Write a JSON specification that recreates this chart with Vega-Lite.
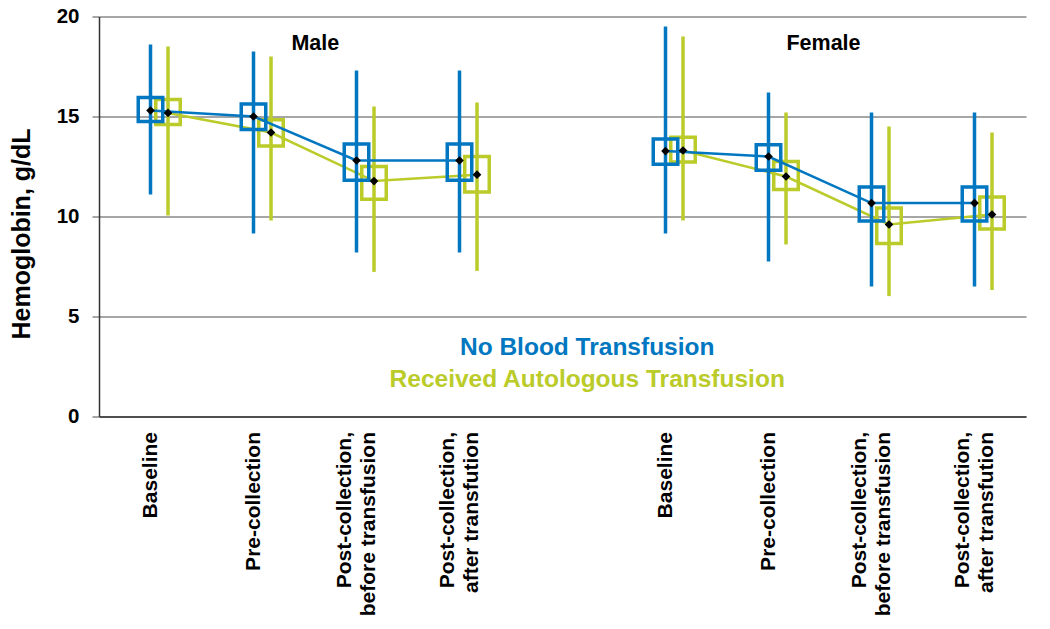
{
  "$schema": "https://vega.github.io/schema/vega-lite/v6.json",
  "width": 927,
  "height": 400,
  "autosize": "none",
  "padding": {"left": 99, "top": 16.5, "right": 24, "bottom": 212},
  "background": "white",
  "config": {
    "view": {"stroke": null},
    "font": "Liberation Sans",
    "axisX": {"domainColor": "#333333", "domainWidth": 1.5, "ticks": false, "grid": false, "labelAngle": -90, "labelFont": "Liberation Sans", "labelFontSize": 21, "labelFontWeight": "bold", "labelColor": "black", "labelPadding": 15, "labelLineHeight": 24, "labelLimit": 300},
    "axisY": {"domainColor": "#333333", "domainWidth": 1.5, "tickColor": "#888888", "tickSize": 7, "tickWidth": 1.5, "gridColor": "#888888", "gridWidth": 1.5, "labelFont": "Liberation Sans", "labelFontSize": 20.5, "labelFontWeight": "bold", "labelColor": "black", "labelPadding": 13, "titleFont": "Liberation Sans", "titleFontSize": 25, "titleFontWeight": "bold", "titleColor": "black", "titlePadding": 22}
  },
  "datasets": {
    "stats": [
      {"sex": "Male", "cat": "M|Baseline", "grp": "No Blood Transfusion", "lo": 11.1, "q1": 14.75, "mean": 15.3, "q3": 15.95, "hi": 18.6},
      {"sex": "Male", "cat": "M|Baseline", "grp": "Received Autologous Transfusion", "lo": 10.05, "q1": 14.6, "mean": 15.18, "q3": 15.85, "hi": 18.5},
      {"sex": "Male", "cat": "M|Pre-collection", "grp": "No Blood Transfusion", "lo": 9.15, "q1": 14.35, "mean": 15.0, "q3": 15.62, "hi": 18.25},
      {"sex": "Male", "cat": "M|Pre-collection", "grp": "Received Autologous Transfusion", "lo": 9.8, "q1": 13.53, "mean": 14.2, "q3": 14.84, "hi": 18.0},
      {"sex": "Male", "cat": "M|Post-collection,|before transfusion", "grp": "No Blood Transfusion", "lo": 8.2, "q1": 11.81, "mean": 12.8, "q3": 13.63, "hi": 17.3},
      {"sex": "Male", "cat": "M|Post-collection,|before transfusion", "grp": "Received Autologous Transfusion", "lo": 7.23, "q1": 10.86, "mean": 11.77, "q3": 12.5, "hi": 15.5},
      {"sex": "Male", "cat": "M|Post-collection,|after transfution", "grp": "No Blood Transfusion", "lo": 8.2, "q1": 11.81, "mean": 12.8, "q3": 13.63, "hi": 17.3},
      {"sex": "Male", "cat": "M|Post-collection,|after transfution", "grp": "Received Autologous Transfusion", "lo": 7.28, "q1": 11.23, "mean": 12.09, "q3": 13.0, "hi": 15.7},
      {"sex": "Female", "cat": "F|Baseline", "grp": "No Blood Transfusion", "lo": 9.15, "q1": 12.61, "mean": 13.27, "q3": 13.88, "hi": 19.5},
      {"sex": "Female", "cat": "F|Baseline", "grp": "Received Autologous Transfusion", "lo": 9.8, "q1": 12.73, "mean": 13.3, "q3": 13.96, "hi": 19.0},
      {"sex": "Female", "cat": "F|Pre-collection", "grp": "No Blood Transfusion", "lo": 7.75, "q1": 12.31, "mean": 13.0, "q3": 13.59, "hi": 16.2},
      {"sex": "Female", "cat": "F|Pre-collection", "grp": "Received Autologous Transfusion", "lo": 8.6, "q1": 11.35, "mean": 12.0, "q3": 12.75, "hi": 15.2},
      {"sex": "Female", "cat": "F|Post-collection,|before transfusion", "grp": "No Blood Transfusion", "lo": 6.5, "q1": 9.77, "mean": 10.67, "q3": 11.47, "hi": 15.2},
      {"sex": "Female", "cat": "F|Post-collection,|before transfusion", "grp": "Received Autologous Transfusion", "lo": 6.02, "q1": 8.65, "mean": 9.6, "q3": 10.42, "hi": 14.5},
      {"sex": "Female", "cat": "F|Post-collection,|after transfution", "grp": "No Blood Transfusion", "lo": 6.5, "q1": 9.77, "mean": 10.67, "q3": 11.47, "hi": 15.2},
      {"sex": "Female", "cat": "F|Post-collection,|after transfution", "grp": "Received Autologous Transfusion", "lo": 6.32, "q1": 9.37, "mean": 10.1, "q3": 10.97, "hi": 14.2}
    ],
    "legendnotes": [
      {"cat": "gap", "y": 3.41, "grp": "No Blood Transfusion", "txt": "No Blood Transfusion"},
      {"cat": "gap", "y": 1.83, "grp": "Received Autologous Transfusion", "txt": "Received Autologous Transfusion"}
    ],
    "malenote": [{"cat": "M|Post-collection,|before transfusion", "y": 18.65, "txt": "Male"}],
    "femalenote": [{"cat": "F|Post-collection,|before transfusion", "y": 18.65, "txt": "Female"}]
  },
  "layer": [
    {
      "data": {"name": "stats"},
      "transform": [{"filter": "datum.grp == 'Received Autologous Transfusion'"}],
      "mark": {"type": "rule", "strokeWidth": 3.5},
      "encoding": {
        "x": {"field": "cat", "type": "nominal", "bandPosition": 0.67, "sort": null, "scale": {"domain": ["M|Baseline", "M|Pre-collection", "M|Post-collection,|before transfusion", "M|Post-collection,|after transfution", "gap", "F|Baseline", "F|Pre-collection", "F|Post-collection,|before transfusion", "F|Post-collection,|after transfution"], "paddingInner": 0, "paddingOuter": 0}, "axis": {"title": null, "labelExpr": "datum.value == 'gap' ? '' : slice(split(datum.value, '|'), 1)", "labelOffset": {"condition": {"test": "indexof(datum.value, ',') >= 0", "value": -12}, "value": 0}}},
        "y": {"field": "lo", "type": "quantitative", "scale": {"domain": [0, 20]}, "axis": {"title": "Hemoglobin, g/dL", "values": [0, 5, 10, 15, 20], "titleY": 217}},
        "y2": {"field": "hi"},
        "color": {"field": "grp", "type": "nominal", "scale": {"domain": ["No Blood Transfusion", "Received Autologous Transfusion"], "range": ["#0077C0", "#BACB2A"]}, "legend": null}
      }
    },
    {
      "data": {"name": "stats"},
      "transform": [{"filter": "datum.grp == 'Received Autologous Transfusion'"}],
      "mark": {"type": "bar", "filled": false, "strokeWidth": 3.5, "width": 24.5, "xOffset": 17.5},
      "encoding": {
        "x": {"field": "cat", "type": "nominal", "sort": null, "axis": {"title": null, "labelExpr": "datum.value == 'gap' ? '' : slice(split(datum.value, '|'), 1)", "labelOffset": {"condition": {"test": "indexof(datum.value, ',') >= 0", "value": -12}, "value": 0}}},
        "y": {"field": "q1", "type": "quantitative", "axis": {"title": "Hemoglobin, g/dL", "values": [0, 5, 10, 15, 20], "titleY": 217}},
        "y2": {"field": "q3"},
        "color": {"field": "grp", "type": "nominal", "legend": null}
      }
    },
    {
      "data": {"name": "stats"},
      "transform": [{"filter": "datum.grp == 'Received Autologous Transfusion'"}],
      "mark": {"type": "line", "strokeWidth": 2.5},
      "encoding": {
        "x": {"field": "cat", "type": "nominal", "bandPosition": 0.67, "sort": null, "axis": {"title": null, "labelExpr": "datum.value == 'gap' ? '' : slice(split(datum.value, '|'), 1)", "labelOffset": {"condition": {"test": "indexof(datum.value, ',') >= 0", "value": -12}, "value": 0}}},
        "y": {"field": "mean", "type": "quantitative", "axis": {"title": "Hemoglobin, g/dL", "values": [0, 5, 10, 15, 20], "titleY": 217}},
        "detail": {"field": "sex"},
        "color": {"field": "grp", "type": "nominal", "legend": null}
      }
    },
    {
      "data": {"name": "stats"},
      "transform": [{"filter": "datum.grp == 'No Blood Transfusion'"}],
      "mark": {"type": "rule", "strokeWidth": 3.5},
      "encoding": {
        "x": {"field": "cat", "type": "nominal", "bandPosition": 0.5, "sort": null, "axis": {"title": null, "labelExpr": "datum.value == 'gap' ? '' : slice(split(datum.value, '|'), 1)", "labelOffset": {"condition": {"test": "indexof(datum.value, ',') >= 0", "value": -12}, "value": 0}}},
        "y": {"field": "lo", "type": "quantitative", "axis": {"title": "Hemoglobin, g/dL", "values": [0, 5, 10, 15, 20], "titleY": 217}},
        "y2": {"field": "hi"},
        "color": {"field": "grp", "type": "nominal", "legend": null}
      }
    },
    {
      "data": {"name": "stats"},
      "transform": [{"filter": "datum.grp == 'No Blood Transfusion'"}],
      "mark": {"type": "bar", "filled": false, "strokeWidth": 3.5, "width": 24.5},
      "encoding": {
        "x": {"field": "cat", "type": "nominal", "sort": null, "axis": {"title": null, "labelExpr": "datum.value == 'gap' ? '' : slice(split(datum.value, '|'), 1)", "labelOffset": {"condition": {"test": "indexof(datum.value, ',') >= 0", "value": -12}, "value": 0}}},
        "y": {"field": "q1", "type": "quantitative", "axis": {"title": "Hemoglobin, g/dL", "values": [0, 5, 10, 15, 20], "titleY": 217}},
        "y2": {"field": "q3"},
        "color": {"field": "grp", "type": "nominal", "legend": null}
      }
    },
    {
      "data": {"name": "stats"},
      "transform": [{"filter": "datum.grp == 'No Blood Transfusion'"}],
      "mark": {"type": "line", "strokeWidth": 2.5},
      "encoding": {
        "x": {"field": "cat", "type": "nominal", "bandPosition": 0.5, "sort": null, "axis": {"title": null, "labelExpr": "datum.value == 'gap' ? '' : slice(split(datum.value, '|'), 1)", "labelOffset": {"condition": {"test": "indexof(datum.value, ',') >= 0", "value": -12}, "value": 0}}},
        "y": {"field": "mean", "type": "quantitative", "axis": {"title": "Hemoglobin, g/dL", "values": [0, 5, 10, 15, 20], "titleY": 217}},
        "detail": {"field": "sex"},
        "color": {"field": "grp", "type": "nominal", "legend": null}
      }
    },
    {
      "data": {"name": "stats"},
      "transform": [{"filter": "datum.grp == 'Received Autologous Transfusion'"}],
      "mark": {"type": "point", "shape": "diamond", "filled": true, "color": "black", "size": 75, "opacity": 1},
      "encoding": {
        "x": {"field": "cat", "type": "nominal", "bandPosition": 0.67, "sort": null, "axis": {"title": null, "labelExpr": "datum.value == 'gap' ? '' : slice(split(datum.value, '|'), 1)", "labelOffset": {"condition": {"test": "indexof(datum.value, ',') >= 0", "value": -12}, "value": 0}}},
        "y": {"field": "mean", "type": "quantitative", "axis": {"title": "Hemoglobin, g/dL", "values": [0, 5, 10, 15, 20], "titleY": 217}}
      }
    },
    {
      "data": {"name": "stats"},
      "transform": [{"filter": "datum.grp == 'No Blood Transfusion'"}],
      "mark": {"type": "point", "shape": "diamond", "filled": true, "color": "black", "size": 75, "opacity": 1},
      "encoding": {
        "x": {"field": "cat", "type": "nominal", "bandPosition": 0.5, "sort": null, "axis": {"title": null, "labelExpr": "datum.value == 'gap' ? '' : slice(split(datum.value, '|'), 1)", "labelOffset": {"condition": {"test": "indexof(datum.value, ',') >= 0", "value": -12}, "value": 0}}},
        "y": {"field": "mean", "type": "quantitative", "axis": {"title": "Hemoglobin, g/dL", "values": [0, 5, 10, 15, 20], "titleY": 217}}
      }
    },
    {
      "data": {"name": "legendnotes"},
      "mark": {"type": "text", "fontSize": 24.5, "fontWeight": "bold", "font": "Liberation Sans", "align": "center", "baseline": "middle"},
      "encoding": {
        "x": {"field": "cat", "type": "nominal", "bandPosition": 0.74, "sort": null, "axis": {"title": null, "labelExpr": "datum.value == 'gap' ? '' : slice(split(datum.value, '|'), 1)", "labelOffset": {"condition": {"test": "indexof(datum.value, ',') >= 0", "value": -12}, "value": 0}}},
        "y": {"field": "y", "type": "quantitative", "axis": {"title": "Hemoglobin, g/dL", "values": [0, 5, 10, 15, 20], "titleY": 217}},
        "text": {"field": "txt"},
        "color": {"field": "grp", "type": "nominal", "legend": null}
      }
    },
    {
      "data": {"name": "malenote"},
      "mark": {"type": "text", "fontSize": 21.5, "fontWeight": "bold", "font": "Liberation Sans", "align": "center", "baseline": "middle", "color": "black"},
      "encoding": {
        "x": {"field": "cat", "type": "nominal", "bandPosition": 0.1, "sort": null, "axis": {"title": null, "labelExpr": "datum.value == 'gap' ? '' : slice(split(datum.value, '|'), 1)", "labelOffset": {"condition": {"test": "indexof(datum.value, ',') >= 0", "value": -12}, "value": 0}}},
        "y": {"field": "y", "type": "quantitative", "axis": {"title": "Hemoglobin, g/dL", "values": [0, 5, 10, 15, 20], "titleY": 217}},
        "text": {"field": "txt"}
      }
    },
    {
      "data": {"name": "femalenote"},
      "mark": {"type": "text", "fontSize": 21.5, "fontWeight": "bold", "font": "Liberation Sans", "align": "center", "baseline": "middle", "color": "black"},
      "encoding": {
        "x": {"field": "cat", "type": "nominal", "bandPosition": 0.034, "sort": null, "axis": {"title": null, "labelExpr": "datum.value == 'gap' ? '' : slice(split(datum.value, '|'), 1)", "labelOffset": {"condition": {"test": "indexof(datum.value, ',') >= 0", "value": -12}, "value": 0}}},
        "y": {"field": "y", "type": "quantitative", "axis": {"title": "Hemoglobin, g/dL", "values": [0, 5, 10, 15, 20], "titleY": 217}},
        "text": {"field": "txt"}
      }
    }
  ]
}
